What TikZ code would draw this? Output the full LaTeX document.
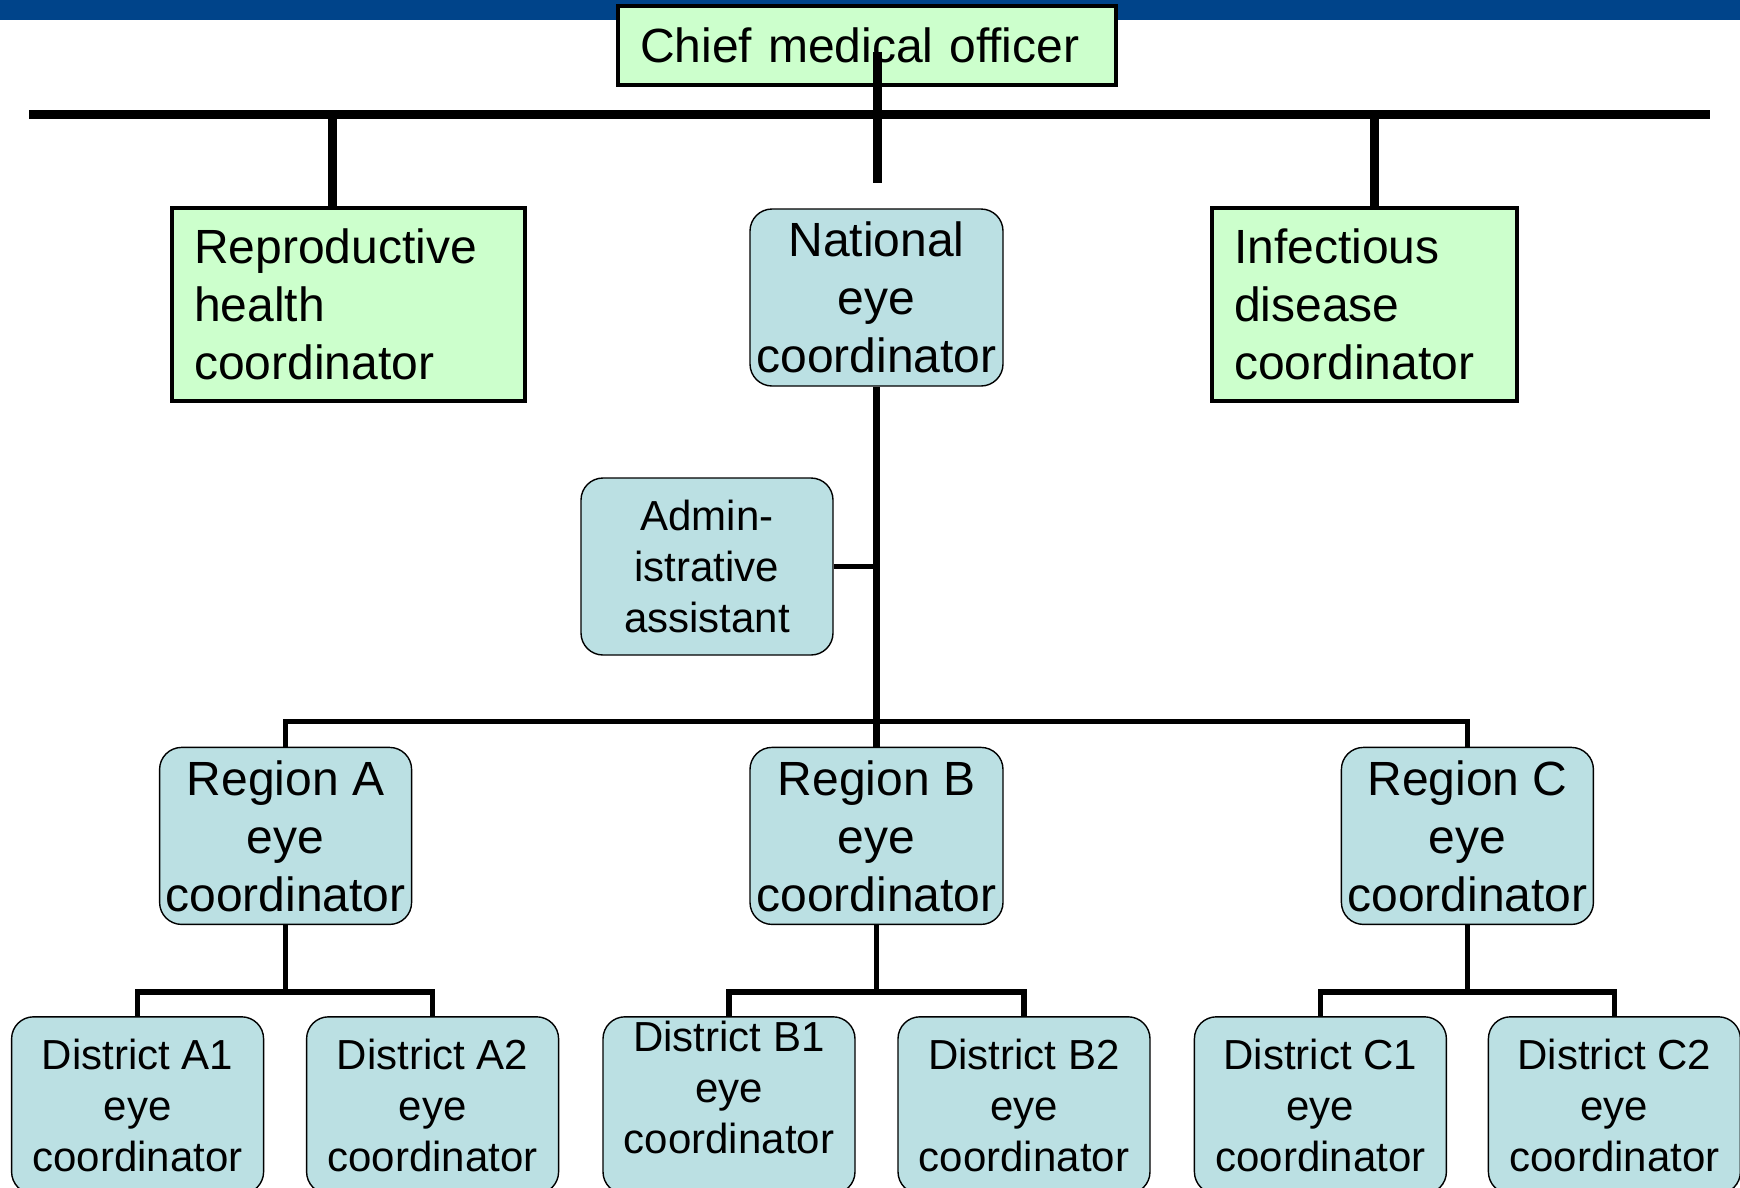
\documentclass[tikz,border=0pt]{standalone}
\usepackage{fontspec}
\setmainfont{Liberation Sans}
\usetikzlibrary{positioning,calc}
\definecolor{bandblue}{HTML}{00448A}
\definecolor{boxgreen}{HTML}{CCFFCC}
\definecolor{boxblue}{HTML}{BBE0E3}
\tikzset{
  gbox/.style={draw=black, fill=boxgreen, line width=3.5pt, inner xsep=22pt, inner ysep=0pt, align=left, font=\fontsize{48}{58}\selectfont},
  rbox/.style={draw=black, fill=boxblue, line width=1.4pt, rounded corners=22pt, inner sep=0pt, align=center, minimum width=252pt, minimum height=177pt, font=\fontsize{48}{58}\selectfont},
  dbox/.style={rbox, font=\fontsize{42}{51}\selectfont},
  bus/.style={line width=9pt},
  top link/.style={line width=9pt},
  link/.style={line width=6.5pt},
  thin link/.style={line width=5.5pt},
}

\begin{document}
\begin{tikzpicture}[x=1pt, y=-1pt]
  \useasboundingbox (0,0) rectangle (1740,1187);
  \clip (0,0) rectangle (1740,1187);
  \fill[bandblue] (0,0) rectangle (1740,20);

  % top level
  \node[gbox, text width=454pt, minimum height=79pt] (cmo) at (867,45.5) {Chief medical officer};
  \node[gbox, text width=309pt, minimum height=193pt] (repro) at (348.5,304.5) {Reproductive\\health\\coordinator};
  \node[gbox, text width=261pt, minimum height=193pt] (infect) at (1364.5,304.5) {Infectious\\disease\\coordinator};
  \node[rbox, minimum width=253pt] (natl) at (876.5,297.5) {National\\eye\\coordinator};
  \node[dbox] (admin) at (707,566.5) {Admin-\\istrative\\assistant};

  % regions
  \node[rbox, minimum width=253pt, below=360pt of natl] (regB) {Region B\\eye\\coordinator};
  \node[rbox, left=337pt of regB] (regA) {Region A\\eye\\coordinator};
  \node[rbox, right=337pt of regB] (regC) {Region C\\eye\\coordinator};

  % districts
  \node[dbox, below=91pt of regA, xshift=-148pt] (distA1) {District A1\\eye\\coordinator};
  \node[dbox, below=91pt of regA, xshift=147pt] (distA2) {District A2\\eye\\coordinator};
  \node[dbox, below=91pt of regB, xshift=-147.5pt, text depth=37pt] (distB1) {District B1\\eye\\coordinator};
  \node[dbox, below=91pt of regB, xshift=147.5pt] (distB2) {District B2\\eye\\coordinator};
  \node[dbox, below=91pt of regC, xshift=-147pt] (distC1) {District C1\\eye\\coordinator};
  \node[dbox, below=91pt of regC, xshift=147pt] (distC2) {District C2\\eye\\coordinator};

  % connectors
  \coordinate (barL) at (29,114);
  \coordinate (barR) at (1710,114);
  \draw[bus] (barL) -- (barR);
  \coordinate (cmoTap) at (877,52);
  \coordinate (cmoDrop) at (877,183);
  \draw[top link] (cmoTap) -- (cmoDrop);
  \coordinate (reproTap) at (332.5,114);
  \coordinate (infectTap) at (1374,114);
  \draw[top link] (reproTap) -- (reproTap |- repro.north);
  \draw[top link] (infectTap) -- (infectTap |- infect.north);
  \draw[link] (natl) -- (regB);
  \draw[thin link] (admin.east) -- (admin.east -| natl.south);
  \coordinate (regBus) at (876.5,721.5);
  \draw[thin link] (regA.north) |- (regBus) -| (regC.north);
  \foreach \r in {A,B,C} {
    \draw[thin link] (reg\r.south) -- ++(0,67);
    \draw[thin link] (dist\r1.north) -- ++(0,-24) -| (dist\r2.north);
  }
\end{tikzpicture}
\end{document}
